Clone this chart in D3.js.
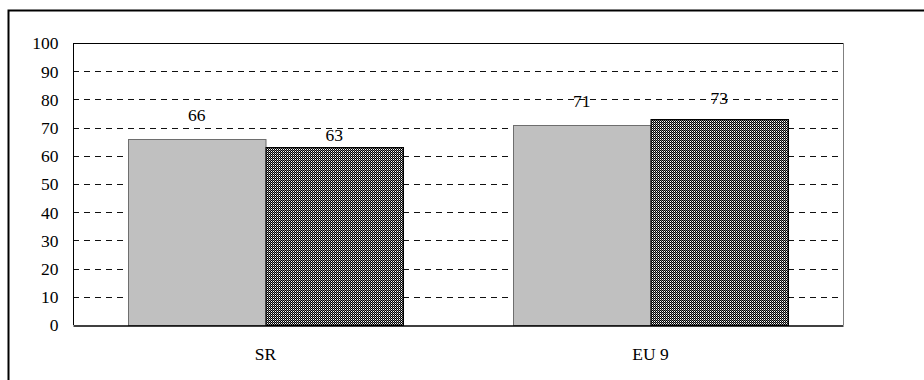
<!DOCTYPE html>
<html>
<head>
<meta charset="utf-8">
<script src="https://cdn.jsdelivr.net/npm/d3@7"></script>
<style>
  body { margin: 0; background: #fff; }
  svg { display: block; }
  .lbl { font-family: "Liberation Serif"; font-size: 17.5px; fill: #000; }
</style>
</head>
<body>
<svg id="chart"></svg>
<script>
const categories = ["SR", "EU 9"];
const seriesNames = ["s1", "s2"];
const values = [
  [66, 71],   // grey bars
  [63, 73]    // hatched bars
];
const yTicks = [0, 10, 20, 30, 40, 50, 60, 70, 80, 90, 100];
// how far above the bar top each value label sits
const labelGap = [[18, 18], [6, 15]];

const width = 924, height = 380;
const margin = { top: 43, left: 73, right: 81, bottom: 55 };

const svg = d3.select("#chart").attr("width", width).attr("height", height);

// hatch pattern for the second series
const defs = svg.append("defs");
const pat = defs.append("pattern")
  .attr("id", "hatch")
  .attr("patternUnits", "userSpaceOnUse")
  .attr("width", 2).attr("height", 2);
pat.append("rect").attr("width", 2).attr("height", 2).attr("fill", "#fff");
pat.append("rect").attr("x", 0).attr("y", 0).attr("width", 1).attr("height", 1).attr("fill", "#000");
pat.append("rect").attr("x", 1).attr("y", 1).attr("width", 1).attr("height", 1).attr("fill", "#000");
pat.append("rect").attr("x", 1).attr("y", 0).attr("width", 1).attr("height", 1).attr("fill", "#777");

// outer frame (runs off the right and bottom)
svg.append("path")
  .attr("d", `M8.5,${height + 5} V10.5 H${width + 5}`)
  .attr("fill", "none").attr("stroke", "#000").attr("stroke-width", 2);

const x0 = d3.scaleBand()
  .domain(categories)
  .range([margin.left, width - margin.right])
  .padding(0);

const x1 = d3.scaleBand()
  .domain(seriesNames)
  .range([0, x0.bandwidth()])
  .paddingInner(0)
  .paddingOuter(0.4);

const y = d3.scaleLinear()
  .domain([0, 100])
  .range([height - margin.bottom, margin.top]);

const plotL = margin.left, plotR = width - margin.right;

// gridlines
svg.append("g")
  .selectAll("line")
  .data(yTicks.filter(t => t > 0 && t < 100))
  .join("line")
  .attr("x1", plotL).attr("x2", plotR - 5)
  .attr("y1", d => Math.round(y(d)) + 0.5)
  .attr("y2", d => Math.round(y(d)) + 0.5)
  .attr("stroke", "#111")
  .attr("stroke-dasharray", "6,5");

// plot area border
svg.append("line")
  .attr("x1", plotR + 0.5).attr("x2", plotR + 0.5)
  .attr("y1", y(100)).attr("y2", y(0))
  .attr("stroke", "#808080");
svg.append("line")
  .attr("x1", plotL).attr("x2", plotR)
  .attr("y1", Math.round(y(100)) + 0.5).attr("y2", Math.round(y(100)) + 0.5)
  .attr("stroke", "#000");

// bars
const groups = svg.append("g")
  .selectAll("g")
  .data(categories)
  .join("g")
  .attr("transform", d => `translate(${x0(d)},0)`);

groups.selectAll("rect")
  .data((c, ci) => seriesNames.map((s, si) => ({ s, si, ci, v: values[si][ci] })))
  .join("rect")
  .attr("x", d => x1(d.s) + 0.5)
  .attr("y", d => Math.round(y(d.v)) + 0.5)
  .attr("width", x1.bandwidth())
  .attr("height", d => Math.round(y(0)) - Math.round(y(d.v)))
  .attr("fill", d => d.si === 0 ? "#c0c0c0" : "url(#hatch)")
  .attr("stroke", d => d.si === 0 ? "#6e6e6e" : "#000")
  .attr("stroke-width", 1);

groups.selectAll("text")
  .data((c, ci) => seriesNames.map((s, si) => ({ s, si, ci, v: values[si][ci] })))
  .join("text")
  .attr("class", "lbl")
  .attr("x", d => x1(d.s) + x1.bandwidth() / 2)
  .attr("y", d => y(d.v) - labelGap[d.si][d.ci])
  .attr("text-anchor", "middle")
  .text(d => d.v);

// y axis
const yAxis = d3.axisLeft(y).tickValues(yTicks).tickSize(0).tickPadding(15);
const yg = svg.append("g")
  .attr("transform", `translate(${plotL + 0.5},0)`)
  .call(yAxis);
yg.select(".domain").attr("stroke", "#000").attr("d", `M0,${y(100)}V${y(0)}`);
yg.selectAll("text").attr("class", "lbl").attr("dy", "0.34em");

// x axis
const xAxis = d3.axisBottom(x0).tickSize(0).tickPadding(22);
const xg = svg.append("g")
  .attr("transform", `translate(0,${Math.round(y(0)) + 0.5})`)
  .call(xAxis);
xg.select(".domain").attr("stroke", "#000").attr("stroke-width", 1.5);
xg.selectAll("text").attr("class", "lbl");
</script>
</body>
</html>
